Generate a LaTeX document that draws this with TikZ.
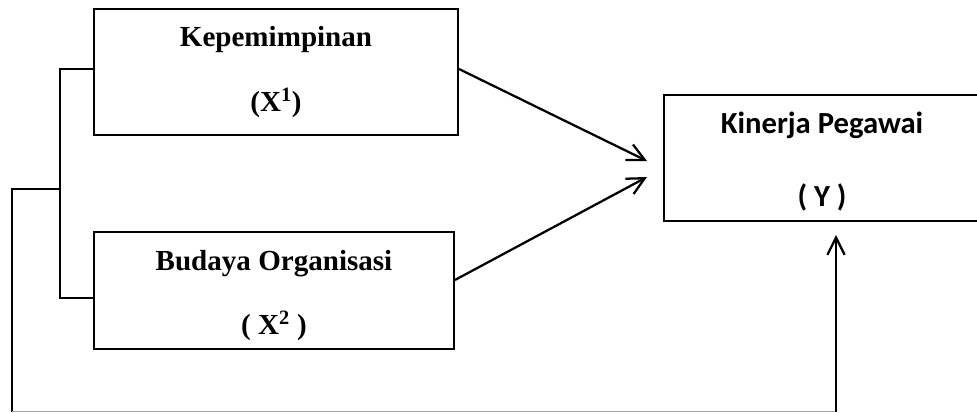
\documentclass[tikz,border=0pt]{standalone}
\usepackage{fontspec}
\setmainfont{Liberation Serif}
\newfontfamily\calibri{Carlito}
\usepackage{tikz}
\usetikzlibrary{arrows.meta,positioning}

\begin{document}
\begin{tikzpicture}[
    x=0.75pt, y=-0.75pt,
    box/.style={draw, line width=1.5pt, align=center, inner sep=0pt,
        font=\fontsize{21.8}{26}\selectfont\bfseries},
    arr/.style={line width=1.7pt, -{Straight Barb[length=13pt,width=13pt]}},
    link/.style={line width=1.1pt}
]
\clip (0,0) rectangle (977,413);

% Independent variables
\node[box, minimum width=273pt, minimum height=94.5pt] (x1) at (276,72)
    {Kepemimpinan\\[23pt](X\textsuperscript{1})};
\node[box, minimum width=270pt, minimum height=87.75pt] (x2) at (274,290.5)
    {\rule{0pt}{23pt}Budaya Organisasi\\[22pt]( X\textsuperscript{2} )};

% Dependent variable (right edge runs off the page)
\node[box, minimum width=237pt, minimum height=94.5pt,
    font=\fontsize{23}{27}\selectfont\calibri\bfseries] (y) at (822,158)
    {\rule{0pt}{21pt}Kinerja Pegawai\\[28pt]( Y )};

% Arrow tips and corners
\coordinate (tip1) at (647,161);
\coordinate (tip2) at (647,177);
\coordinate (tip3) at (836,235);
\coordinate (brk) at (60,189);
\coordinate (lc) at (12,189);
\coordinate (bl) at (12,411.5);
\coordinate (bc) at (836,411.5);

% Bracket joining X1 and X2
\draw[link] ([yshift=2.25pt]x1.west) -| (brk) |- ([yshift=-5.6pt]x2.west);
\draw[link] (brk) -- (lc) -- (bl);
\draw[gray!70, link] (bl) -- (bc);

% Arrows into Y
\draw[arr] ([yshift=2.25pt]x1.east) -- (tip1);
\draw[arr] ([yshift=7.9pt]x2.east) -- (tip2);
\draw[arr] (bc) -- (tip3);

\end{tikzpicture}
\end{document}
